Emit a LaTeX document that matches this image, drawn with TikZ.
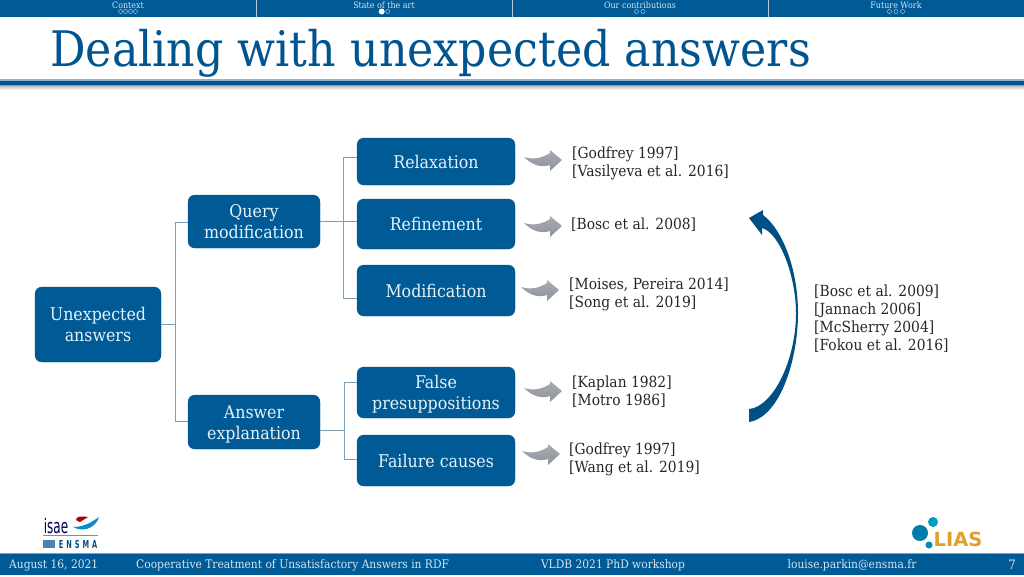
\documentclass[tikz,border=0pt]{standalone}
\usepackage{fontspec}
\setmainfont[FakeStretch=0.905]{DejaVu Serif}
\newfontfamily\logofont{DejaVu Sans}
\newfontfamily\isaefont[FakeStretch=0.6]{DejaVu Sans}
\usetikzlibrary{shadows,calc}
\definecolor{bluea}{HTML}{005A96}
\definecolor{blueb}{HTML}{004F85}
\definecolor{linec}{HTML}{7F9FB5}
\definecolor{titlec}{HTML}{00548F}
\definecolor{refc}{HTML}{262626}
\definecolor{heada}{HTML}{D5E6F2}
\definecolor{greya}{HTML}{8F939B}
\definecolor{greyb}{HTML}{A8ABB2}
\definecolor{liaso}{HTML}{E0A030}
\definecolor{boxt}{HTML}{E6F3FA}
\tikzset{
 x=1pt,y=-1pt,
 boxn/.style={draw=blueb,fill=bluea,rounded corners=7pt,text=boxt,align=center,font=\fontsize{17.5}{21}\selectfont,inner sep=0pt},
 boxl/.style={text=boxt,align=center,font=\fontsize{17.5}{21}\selectfont,inner sep=0pt},
 refn/.style={anchor=west,align=left,text=refc,font=\fontsize{15.3}{18}\selectfont,inner sep=0pt},
 headn/.style={text=heada,font=\fontsize{8.8}{10}\selectfont,inner sep=0pt},
 footn/.style={text=heada,font=\fontsize{11.8}{13}\selectfont,inner sep=0pt},
 conn/.style={draw=linec,line width=0.9pt},
 dotn/.style={draw=heada,line width=0.35pt,circle,minimum size=4pt,inner sep=0pt},
 pics/smallarrow/.style={code={
  \path[left color=greyb,right color=greya,shading angle=0]
   (0,0) .. controls (10,3) and (18,1) .. (26,-4) -- (26,-7)
   -- (38,3) -- (26,14) -- (26,8)
   .. controls (17,11) and (8,8) .. (0,0) -- cycle;
 }}
}
\begin{document}
\begin{tikzpicture}
\useasboundingbox (0,0) rectangle (1024,576);
% header
\fill[bluea] (0,0) rectangle (1024,17);
\foreach \xx in {256,512,768}{\draw[white!70!bluea,line width=0.7pt] (\xx,0)--(\xx,17);}
\node[headn] (h1) at (128,5) {Context};
\node[headn] (h2) at (384,5) {State of the art};
\node[headn] (h3) at (640,5) {Our contributions};
\node[headn] (h4) at (896,5) {Future Work};
\foreach \xx in {120.5,125.5,130.5,135.5}{\node[dotn] at (\xx,11.5) {};}
\node[circle,fill=white,minimum size=6pt,inner sep=0pt] at (381.7,11.5) {};
\node[dotn] at (387.7,11.5) {};
\foreach \xx in {636.5,643}{\node[dotn] at (\xx,11.5) {};}
\foreach \xx in {889.5,896,902.5}{\node[dotn] at (\xx,11.5) {};}
% title
\node[anchor=base west,text=titlec,inner sep=0pt,font=\fontsize{49}{55}\selectfont] (title) at (50,66) {Dealing with unexpected answers};
% rule
\shade[top color=black!30,bottom color=white] (0,85) rectangle (1024,90);
\fill[linec!80] (0,79) rectangle (1024,80.5);
\fill[titlec] (0,81) rectangle (1024,84.5);
\fill[linec] (0,84.5) rectangle (1024,86);
% boxes
\node[boxn,minimum width=126pt,minimum height=75pt] (unexp) at (98,324.5) {Unexpected\\answers};
\node[boxn,minimum width=132pt,minimum height=53pt] (query) at (254,221.5) {Query\\modification};
\node[boxn,minimum width=132pt,minimum height=54pt,label={[boxl,yshift=-2pt]center:{Answer\\explanation}}] (answer) at (254,422) {};
\node[boxn,minimum width=158pt,minimum height=47pt] (relax) at (436,161.5) {Relaxation};
\node[boxn,minimum width=158pt,minimum height=50pt] (refine) at (436,224) {Refinement};
\node[boxn,minimum width=158pt,minimum height=51pt] (modif) at (436,290.5) {Modification};
\node[boxn,minimum width=158pt,minimum height=51pt,label={[boxl,yshift=-2pt]center:{False\\presuppositions}}] (false) at (436,392.5) {};
\node[boxn,minimum width=158pt,minimum height=51pt] (fail) at (436,460.5) {Failure causes};
% connectors
\coordinate (t1) at (175,324);
\coordinate (t2) at (343.5,221);
\coordinate (t3) at (344,430);
\draw[conn] (unexp.east |- t1) -- (t1);
\draw[conn] (t1) |- (query.west |- 0,222);
\draw[conn] (t1) |- (answer.west |- 0,421.7);
\draw[conn] (query.east |- t2) -- (refine.west |- t2);
\draw[conn] (t2) |- (relax.west |- 0,157);
\draw[conn] (t2) |- (modif.west |- 0,298);
\draw[conn] (answer.east |- t3) -- (t3);
\draw[conn] (t3) |- (false.west |- 0,382);
\draw[conn] (t3) |- (fail.west |- 0,459);
% small arrows
\pic at (524,157) {smallarrow};
\pic at (524,223) {smallarrow};
\pic at (521,287) {smallarrow};
\pic at (524,388) {smallarrow};
\pic at (522,451) {smallarrow};
% refs
\node[refn] (r1) at (572,163) {[Godfrey 1997]\\{}[Vasilyeva et al. 2016]};
\node[refn] (r2) at (571,225) {[Bosc et al. 2008]};
\node[refn] (r3) at (569,294.5) {[Moises, Pereira 2014]\\{}[Song et al. 2019]};
\node[refn] (r4) at (572,392) {[Kaplan 1982]\\{}[Motro 1986]};
\node[refn] (r5) at (569,459) {[Godfrey 1997]\\{}[Wang et al. 2019]};
\node[refn] (r6) at (814,319) {[Bosc et al. 2009]\\{}[Jannach 2006]\\{}[McSherry 2004]\\{}[Fokou et al. 2016]};
% big arrow
\fill[blueb] (749,218) -- (763,210) -- (763,215)
 .. controls (783,230) and (798,270) .. (798,313)
 .. controls (798,360) and (780,417) .. (749,422)
 -- (749,409)
 .. controls (773,407) and (796,360) .. (796,313)
 .. controls (796,277) and (780,233) .. (762,228)
 -- (762,235) -- cycle;
% footer
\fill[bluea] (0,554) rectangle (1024,575);
\fill[linec] (0,553) rectangle (1024,554);
\node[footn,anchor=west] (f1) at (9,565) {August 16, 2021};
\node[footn,anchor=west] (f2) at (136,565.5) {Cooperative Treatment of Unsatisfactory Answers in RDF};
\node[footn] (f3) at (613,565.5) {VLDB 2021 PhD workshop};
\node[footn] (f4) at (852,565.5) {louise.parkin@ensma.fr};
\node[footn] (f5) at (1012,564.5) {\fontsize{13}{15}\selectfont 7};
% ISAE logo
\node[inner sep=0pt,text=black!70!blue,font=\fontsize{20}{20}\selectfont\isaefont] (isae) at (56,526) {isae};
\fill[red!70!black] (76,520) .. controls (76,516) and (82,516) .. (88,517) -- (80,522) -- cycle;
\path[fill=cyan!70!blue] (73,527) .. controls (84,527) and (92,522) .. (99,517) .. controls (97,525) and (86,534) .. (73,527) -- cycle;
\draw[black!45,line width=1pt] (43,535.5) -- (98,535.5);
\node[inner sep=0pt,text=blueb,font=\fontsize{11}{11}\selectfont\isaefont\bfseries] (ensma) at (78,544) {E\hspace{3pt}N\hspace{3pt}S\hspace{3pt}M\hspace{3pt}A};
\fill[blueb!70] (43,540) rectangle (55,548);
% LIAS logo
\fill[bluea!80!cyan] (920,533) circle (8pt);
\fill[bluea!60!cyan] (933,522) circle (5pt);
\fill[bluea!70!cyan] (929,545) circle (3.5pt);
\node[inner sep=0pt,text=liaso,font=\fontsize{19.5}{20}\selectfont\logofont\bfseries] (lias) at (958,539) {LIAS};
\end{tikzpicture}
\end{document}
